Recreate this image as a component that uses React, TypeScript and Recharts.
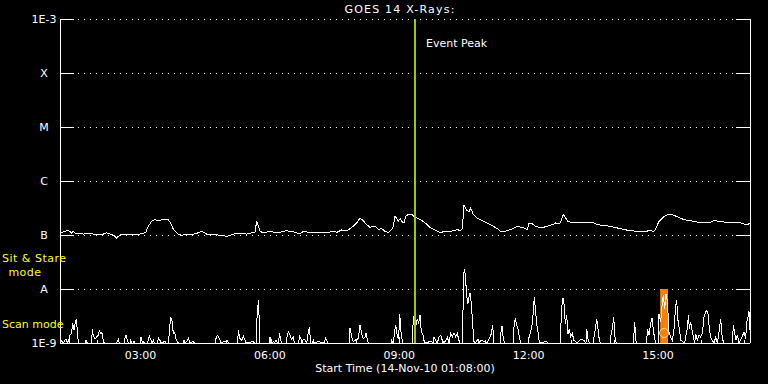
import {
  LineChart,
  Line,
  XAxis,
  YAxis,
  CartesianGrid,
  ReferenceLine,
  ReferenceArea,
  ReferenceDot,
} from "recharts";

// time axis: minutes after the start time (14-Nov-10 01:08:00)
const START_MINUTE = 68;
const END_MINUTE = 960;
const hourTicks = [2, 3, 4, 5, 6, 7, 8, 9, 10, 11, 12, 13, 14, 15, 16, 17];

const fluxTicks = [1e-9, 1e-8, 1e-7, 1e-6, 1e-5, 1e-4, 1e-3];
const fluxTickLabels = ["1E-9", "A", "B", "C", "M", "X", "1E-3"];

// [minute, flux in nW/m^2]
const longChannel: [number, number][] = [
  [0, 109], [7, 117], [11.6, 122], [16.2, 109], [18.6, 117], [20.9, 109], [25.5, 107], [32.5, 104],
  [39.4, 107], [46.4, 104], [53.3, 101], [60.3, 104], [64.9, 110], [69.6, 104], [74.2, 98.6], [78.8, 88],
  [83.5, 101], [92.8, 104], [102, 101], [111.3, 104], [116, 107], [119.7, 114], [121.5, 135], [124.3, 155],
  [127.5, 179], [132.2, 192], [136.8, 184], [141.5, 192], [146.1, 198], [150.7, 192], [154, 167], [156.8, 135],
  [160, 117], [164.6, 104], [169.3, 98.6], [176.2, 104], [185.5, 104], [192.5, 110], [197.1, 117], [204.1, 104],
  [213.3, 104], [222.6, 98.6], [231.9, 94.5], [236.5, 98.6], [241.2, 104], [250.5, 107], [259.7, 104], [266.7, 110],
  [271.3, 114], [273.6, 179], [276, 145], [278.3, 117], [282.9, 109], [292.2, 117], [301.5, 109], [310.7, 117],
  [315.4, 120], [324.7, 114], [333.9, 104], [338.6, 117], [343.2, 114], [352.5, 110], [361.8, 110], [371, 110],
  [380.3, 117], [385, 112], [391.9, 124], [398.9, 120], [403.5, 131], [408.1, 145], [412.8, 167], [417.4, 206],
  [422, 184], [426.7, 155], [431.3, 139], [438.3, 145], [442.9, 126], [447.6, 131], [452.2, 117], [456.8, 112],
  [461.5, 126], [463.8, 145], [466.1, 222], [468.4, 206], [470.8, 179], [473.1, 201], [475.4, 179], [478.6, 167],
  [480.9, 222], [485.6, 245], [490.2, 238], [492.5, 222], [497.2, 206], [501.8, 192], [506.4, 174], [511.1, 155],
  [515.7, 135], [520.3, 126], [525, 117], [529.6, 110], [534.3, 117], [538.9, 114], [543.5, 117], [548.2, 120],
  [552.8, 126], [557.4, 120], [559.8, 131], [562.1, 364], [565.3, 294], [569, 267], [571.4, 316], [575.1, 238],
  [580.6, 206], [589.9, 179], [599.2, 155], [608.5, 131], [613.1, 117], [617.7, 117], [622.4, 120], [627, 126],
  [631.7, 135], [636.3, 145], [640.9, 139], [645.6, 135], [650.2, 126], [652.5, 167], [657.2, 160], [661.8, 145],
  [668.8, 135], [678, 145], [685, 155], [689.6, 167], [694.3, 160], [696.6, 174], [700.3, 238], [703.5, 206],
  [706.8, 179], [712.8, 167], [724.4, 167], [736, 167], [743, 167], [747.6, 155], [756.9, 151], [766.2, 143],
  [775.4, 135], [784.7, 126], [794, 120], [803.3, 117], [812.5, 117], [821.8, 120], [826.5, 117], [828.8, 131],
  [833.4, 179], [840.4, 222], [847.3, 245], [854.3, 231], [861.2, 212], [868.2, 192], [877.5, 184], [886.7, 174],
  [896, 174], [905.3, 174], [909.9, 187], [916.9, 179], [923.9, 174], [933.1, 167], [942.4, 174], [947, 167],
  [951.7, 160], [956.3, 155], [960, 167],
];

const shortChannel: [number, number][] = [
  [0, 1], [2.3, 1.12], [4.6, 1], [8.3, 1.2], [10.2, 1], [11.6, 1.12], [13, 1], [13.9, 1.39], [16.2, 1.53],
  [17.6, 2.35], [19.5, 1.72], [21.3, 2.45], [22.7, 2.74], [24.1, 1.72], [25.5, 1],
  [34.8, 1], [36.2, 1.12], [38, 1],
  [44, 1], [45, 1.84], [46.4, 1.35], [48.7, 1.17], [51, 1.29], [53.3, 1.39], [54.7, 1.67], [56.6, 1.49],
  [58.4, 1.55], [60.3, 1.07], [61.7, 1],
  [78, 1], [79.8, 1.07], [81.2, 1.17], [82.6, 1],
  [89.5, 1], [90.9, 1.35], [92.3, 1.35], [93.7, 1.12], [95.5, 1],
  [97.4, 1], [98.3, 1.17], [99.7, 1], [102, 1], [103, 1.07], [104.4, 1],
  [112.2, 1], [113.2, 1.29], [114.6, 1], [116, 1.07], [117.3, 1],
  [122, 1], [122.9, 1.2], [124.3, 1.35], [126.2, 1.17], [128, 1], [129.9, 1.12], [131.3, 1],
  [135.9, 1], [136.8, 1.29], [138.2, 1.12], [139.1, 1.12], [140.5, 1], [146.1, 1.07], [147.5, 1],
  [151.2, 1], [152.1, 1.72], [154, 2.9], [155.8, 2.63], [157.7, 1.49], [159.5, 1.55], [161.4, 1.2],
  [163.3, 1.07], [164.6, 1],
  [171.6, 1], [172.5, 1.12], [173.9, 1], [177.2, 1.12], [179, 1.24], [180.4, 1], [185.5, 1.07], [186.9, 1],
  [215.7, 1], [216.6, 1.17], [218.9, 1.39], [220.8, 1.29], [222.6, 1.12], [224, 1],
  [232.8, 1.12], [234.2, 1],
  [247.2, 1], [248.1, 1.72], [250.5, 1.2], [252.8, 1.12], [255.1, 1.35], [257.4, 1.12], [258.8, 1],
  [269, 1.07], [270.4, 1],
  [272.7, 1], [273.6, 2.25], [275, 4.64], [276.4, 6.16], [277.8, 1],
  [292.2, 1], [293.1, 1.29], [295, 1], [296.8, 1.07], [298.7, 1], [300.5, 1.12], [302.4, 1],
  [304.3, 1], [305.2, 1.53], [307, 1.17], [308.4, 1],
  [314.5, 1], [315.4, 1.2], [317.7, 1.6], [320, 1.39], [322.3, 1.17], [324.7, 1.29], [326, 1],
  [332.1, 1], [333, 1.35], [334.9, 1.24], [336.7, 1], [338.6, 1.17], [341.4, 1.12], [343.2, 1],
  [345.1, 1.49], [346.9, 1.98], [348.8, 1],
  [351.1, 1], [352.5, 1.12], [353.9, 1], [359.4, 1.07], [362.7, 1.04],
  [368.3, 1], [369.2, 1.29], [371, 1.12], [372.4, 1],
  [402.6, 1], [403.5, 1.9], [405.8, 1.29], [408.1, 1.07], [410.5, 1.12], [412.8, 1.17], [415.1, 1.2],
  [417.4, 2.12], [419.7, 1.49], [422, 1.2], [424.4, 1.29], [425.8, 1.55], [427.6, 1.12], [429, 1],
  [460.5, 1], [461.5, 1.12], [463.8, 1], [465.2, 1.49], [467, 2.19], [469.4, 1.29], [471.2, 1.2],
  [472.6, 3.49], [474.5, 1.55], [476.8, 1],
  [490.2, 1], [491.6, 3.16], [493.4, 2.63], [495.3, 2.12], [497.2, 2.82], [499, 2.28], [500.9, 3.35],
  [502.7, 1.6], [504.6, 1.49], [506.4, 1.12], [507.8, 1],
  [515.7, 1.07], [519.4, 1], [520.3, 1.29], [522.7, 1.12], [525, 1], [527.3, 1.29], [529.6, 1.39],
  [531.9, 1.12], [534.3, 1], [536.6, 1.12], [538.9, 1.29], [541.2, 1], [543.5, 1.49], [545.9, 1.29],
  [548.2, 1.55], [550.5, 1.29], [552.8, 1.49], [555.1, 1.12], [556.5, 1],
  [560.2, 1], [561.2, 15.5], [562.5, 23.1], [563.9, 18.5], [565.8, 7.63], [567.6, 5.35], [569.5, 7.63],
  [570.9, 8.54], [572.8, 4.32], [574.1, 2.28], [576, 1.07], [577.4, 1],
  [581.6, 1.17], [583, 1], [585.3, 1.12], [589.9, 1.07], [593.6, 1],
  [596.9, 1.17], [600.1, 1.49], [602, 2.12], [603.8, 1],
  [612.2, 1], [613.1, 1.49], [615, 2.06], [616.8, 1.2], [618.7, 1],
  [630.7, 1], [631.6, 1.98], [633.5, 2.9], [635.4, 2.12], [637.2, 1.84], [639.1, 1.29], [640.9, 1],
  [651.6, 1], [652.5, 1.24], [654.8, 1.6], [656.7, 2.12], [658.6, 3.75], [659.9, 7.1], [661.8, 3.75],
  [663.2, 2.28], [665.1, 1.6], [666.9, 1],
  [677.1, 1.07], [678.5, 1],
  [695.7, 1], [696.6, 1.84], [698.4, 4.98], [699.8, 6.81], [701.2, 5.35], [703.1, 2.28], [704.9, 3.25],
  [706.8, 1.49], [708.6, 1.84], [710.5, 1.29], [712.8, 1.49], [715.1, 1.12], [719.8, 1],
  [724.4, 1.17], [729.1, 1.12], [731.8, 1], [732.8, 1.84], [734.6, 1.17], [736.5, 1],
  [742, 1], [743, 1.29], [745.3, 1.98], [746.7, 2.82], [748.5, 1.84], [750.4, 1.12], [752.2, 1],
  [765.2, 1], [766.2, 1.29], [768.9, 1.98], [770.3, 3.03], [772.2, 1.29], [774, 1],
  [797.7, 1], [798.6, 1.49], [799.5, 2.45], [801.4, 1.07], [802.8, 1],
  [816.2, 1], [817.2, 1.84], [819.5, 1.39], [821.8, 2.28], [823.7, 2.9], [825.5, 1.72], [827.4, 1.2], [829.2, 1],
  [832, 1], [833.4, 3.49], [835.7, 2.45], [838, 5.74], [839.4, 7.63], [841.3, 4.32], [843.1, 8.2], [845, 6.16],
  [847.3, 1.6], [849.6, 1.29], [852, 1.12], [854.3, 1.84], [856.6, 4.98], [858, 6.16], [859.8, 2.63],
  [861.7, 1.84], [863.6, 1.12], [865.9, 1.07], [869.1, 1],
  [870.5, 1.29], [872.8, 1.84], [874.2, 3.25], [875.6, 1.84], [877.5, 2.45], [879.3, 1.72], [881.2, 1.29],
  [883, 1], [884.4, 1.49], [886.7, 1.12], [889.1, 1.39], [891.4, 1.29], [893.7, 1.49], [896, 3.03],
  [898.3, 3.75], [899.7, 4.02], [901.6, 3.49], [903.4, 1.84], [905.3, 1.29], [907.6, 1.12], [909.9, 1],
  [912.3, 1.29], [914.6, 1], [916.9, 1.6], [919.2, 2.74], [921.5, 1.2], [923.9, 1],
  [935.4, 1], [936.8, 2.12], [938.7, 1.49], [940.5, 1.12], [942.4, 1.39], [944.7, 1], [949.4, 1.35],
  [951.7, 1.6], [954, 1.2], [955.4, 2.45], [957.2, 3.03], [958.6, 3.86], [960, 1.72],
];

const eventPeakMinute = 494;
const observationWindow = [835, 846];
const observationFlux = [1e-9, 1e-8];
const observationMarker = [840.4, 1.53]; // minute, nW/m^2

const toRows = (pts: [number, number][]) => pts.map(([t, nw]) => ({ t, flux: nw * 1e-9 }));
const longData = toRows(longChannel);
const shortData = toRows(shortChannel);

const FONT = "DejaVu Sans";
const WHITE = "#ffffff";

function LeftTick({ x, y, index }: any) {
  return (
    <g>
      <line x1={x} x2={x + 14} y1={y} y2={y} stroke={WHITE} shapeRendering="crispEdges" />
      <text x={44} y={y + 4} textAnchor="middle" fill={WHITE} fontSize={11} fontFamily={FONT}>
        {fluxTickLabels[index]}
      </text>
    </g>
  );
}

function RightTick({ x, y }: any) {
  return <line x1={x - 14} x2={x} y1={y} y2={y} stroke={WHITE} shapeRendering="crispEdges" />;
}

function BottomTick({ x, y, payload }: any) {
  const hour = Math.round((payload.value + START_MINUTE) / 60);
  const major = hour % 3 === 0;
  return (
    <g>
      <line x1={x} x2={x} y1={y} y2={y - (major ? 6 : 3)} stroke={WHITE} shapeRendering="crispEdges" />
      {major && (
        <text x={x} y={y + 16} textAnchor="middle" fill={WHITE} fontSize={11} fontFamily={FONT}>
          {`${String(hour).padStart(2, "0")}:00`}
        </text>
      )}
    </g>
  );
}

function TopTick({ x, y, payload }: any) {
  const hour = Math.round((payload.value + START_MINUTE) / 60);
  const major = hour % 3 === 0;
  return <line x1={x} x2={x} y1={y} y2={y + (major ? 6 : 3)} stroke={WHITE} shapeRendering="crispEdges" />;
}

export default function App() {
  const minuteTicks = hourTicks.map((h) => h * 60 - START_MINUTE);
  return (
    <div style={{ position: "absolute", left: 0, top: 0, width: 768, height: 384, background: "#000" }}>
      <LineChart width={768} height={384} margin={{ top: 19, right: 0, bottom: 0, left: 0 }}>
        <CartesianGrid
          horizontal
          vertical={false}
          stroke={WHITE}
          strokeDasharray="1 5"
          shapeRendering="crispEdges"
        />
        <XAxis
          dataKey="t"
          type="number"
          domain={[0, END_MINUTE]}
          allowDataOverflow
          ticks={minuteTicks}
          interval={0}
          height={41}
          tickSize={0}
          tickMargin={0}
          tickLine={false}
          axisLine={{ stroke: WHITE, shapeRendering: "crispEdges" }}
          tick={<BottomTick />}
        />
        <XAxis
          xAxisId="top"
          orientation="top"
          dataKey="t"
          type="number"
          domain={[0, END_MINUTE]}
          allowDataOverflow
          ticks={minuteTicks}
          interval={0}
          height={0}
          tickSize={0}
          tickMargin={0}
          tickLine={false}
          axisLine={{ stroke: WHITE, shapeRendering: "crispEdges" }}
          tick={<TopTick />}
        />
        <YAxis
          scale="log"
          domain={[1e-9, 1e-3]}
          allowDataOverflow
          ticks={fluxTicks}
          interval={0}
          width={60}
          tickSize={0}
          tickMargin={0}
          tickLine={false}
          axisLine={{ stroke: WHITE, shapeRendering: "crispEdges" }}
          tick={<LeftTick />}
        />
        <YAxis
          yAxisId="right"
          orientation="right"
          scale="log"
          domain={[1e-9, 1e-3]}
          allowDataOverflow
          ticks={fluxTicks}
          interval={0}
          width={18}
          tickSize={0}
          tickMargin={0}
          tickLine={false}
          axisLine={{ stroke: WHITE, shapeRendering: "crispEdges" }}
          tick={<RightTick />}
        />
        <ReferenceArea
          x1={observationWindow[0]}
          x2={observationWindow[1]}
          y1={observationFlux[0]}
          y2={observationFlux[1]}
          fill="#ff8000"
          fillOpacity={1}
          stroke="none"
        />
        <ReferenceDot
          x={observationMarker[0]}
          y={observationMarker[1] * 1e-9}
          r={4.5}
          fill="none"
          stroke="#ffd9a8"
          strokeWidth={1}
        />
        <Line
          data={longData}
          dataKey="flux"
          type="linear"
          stroke={WHITE}
          strokeWidth={1}
          shapeRendering="crispEdges"
          dot={false}
          isAnimationActive={false}
        />
        <Line
          data={shortData}
          dataKey="flux"
          type="linear"
          stroke={WHITE}
          strokeWidth={1}
          shapeRendering="crispEdges"
          dot={false}
          isAnimationActive={false}
        />
        <ReferenceLine
          x={eventPeakMinute}
          stroke="#99cc00"
          strokeWidth={2}
          shapeRendering="crispEdges"
          label={(props: any) => (
            <text x={props.viewBox.x + 11} y={props.viewBox.y + 28} fill={WHITE} fontSize={11} fontFamily={FONT}>
              Event Peak
            </text>
          )}
        />
      </LineChart>
      <svg
        width={768}
        height={384}
        style={{ position: "absolute", left: 0, top: 0, pointerEvents: "none" }}
        fontFamily={FONT}
        fontSize={11}
      >
        <text x={400} y={13} textAnchor="middle" fill={WHITE} letterSpacing={1.2}>
          GOES 14 X-Rays:
        </text>
        <text x={405} y={372} textAnchor="middle" fill={WHITE}>
          Start Time (14-Nov-10 01:08:00)
        </text>
        <text x={2} y={262} fill="#ffff00" letterSpacing={0.5}>
          Sit &amp; Stare
        </text>
        <text x={25} y={276} textAnchor="middle" fill="#ffff00" letterSpacing={0.5}>
          mode
        </text>
        <text x={2} y={328} fill="#ffff00">
          Scan mode
        </text>
      </svg>
    </div>
  );
}
